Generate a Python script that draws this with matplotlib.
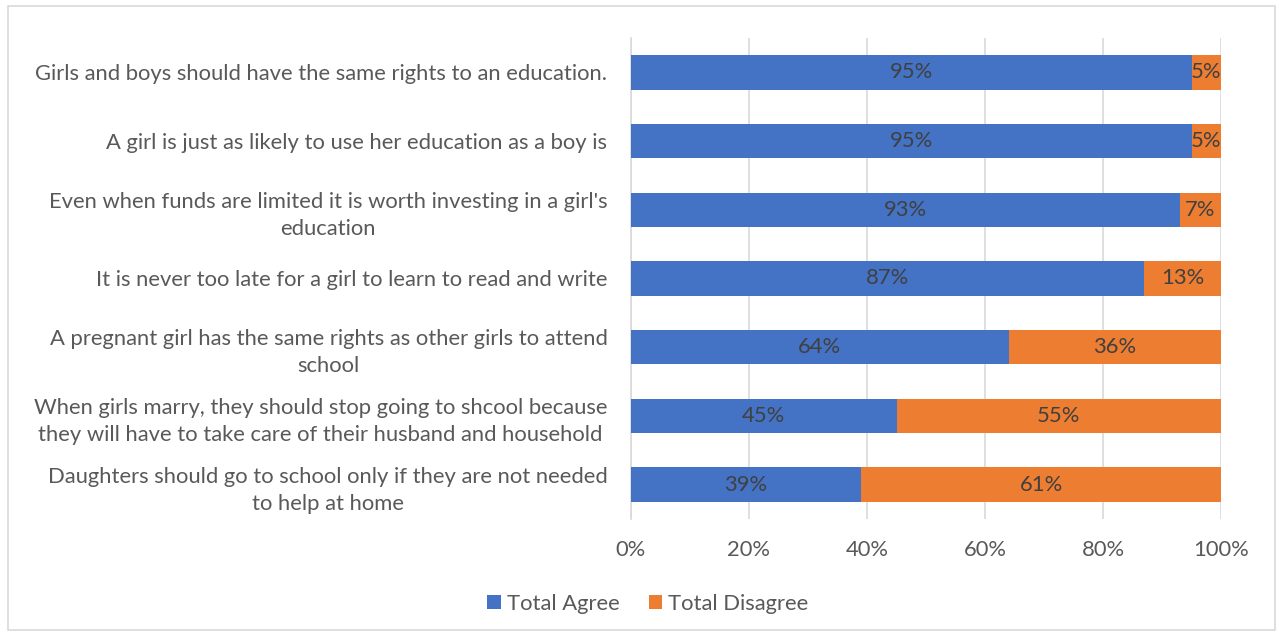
import matplotlib
matplotlib.use("Agg")
import matplotlib.pyplot as plt
from matplotlib.patches import Rectangle
from matplotlib.ticker import FixedLocator

statements = [
    "Girls and boys should have the same rights to an education.",
    "A girl is just as likely to use her education as a boy is",
    "Even when funds are limited it is worth investing in a girl's\neducation",
    "It is never too late for a girl to learn to read and write",
    "A pregnant girl has the same rights as other girls to attend\nschool",
    "When girls marry, they should stop going to shcool because\nthey will have to take care of their husband and household",
    "Daughters should go to school only if they are not needed\nto help at home",
]
agree = [95, 95, 93, 87, 64, 45, 39]
disagree = [5, 5, 7, 13, 36, 55, 61]
series_names = ["Total Agree", "Total Disagree"]
tick_values = [0, 20, 40, 60, 80, 100]

BLUE = "#4472C4"
ORANGE = "#ED7D31"
TEXT = "#595959"
LABEL = "#404040"
GRID = "#D9D9D9"
FS = 15.8

plt.rcParams["font.family"] = ["Lato", "DejaVu Sans"]

W, H = 1279, 636
fig = plt.figure(figsize=(W / 100, H / 100), dpi=100)

# chart frame
fig.add_artist(Rectangle((8 / W, 6 / H), (1275 - 8) / W, (630 - 6) / H,
                         transform=fig.transFigure, fill=False,
                         edgecolor="#D9D9D9", linewidth=1.2))

ax = fig.add_axes([631 / W, 1 - 519 / H, (1221 - 631) / W, (519 - 38) / H])

n = len(statements)
ypos = list(range(n))
ax.barh(ypos, agree, height=0.5, color=BLUE, label=series_names[0], zorder=3)
ax.barh(ypos, disagree, left=agree, height=0.5, color=ORANGE,
        label=series_names[1], zorder=3)

for y, a, d in zip(ypos, agree, disagree):
    ax.text(a / 2, y, f"{a}%", ha="center", va="center",
            fontsize=FS, color=LABEL, zorder=4)
    ax.text(a + d / 2, y, f"{d}%", ha="center", va="center",
            fontsize=FS, color=LABEL, zorder=4)

ax.set_xlim(0, 100)
ax.set_ylim(n - 0.5, -0.5)
ax.xaxis.set_major_locator(FixedLocator(tick_values))
ax.set_xticklabels([f"{v}%" for v in tick_values], fontsize=FS, color=TEXT)
ax.set_yticks(ypos)
ax.set_yticklabels(statements, fontsize=FS, color=TEXT,
                   multialignment="center", linespacing=1.45)
ax.tick_params(axis="both", length=0)
ax.tick_params(axis="x", pad=15)
ax.tick_params(axis="y", pad=17)
ax.grid(axis="x", color=GRID, linewidth=1.2, zorder=0)
for side in ["top", "right", "bottom"]:
    ax.spines[side].set_visible(False)
ax.spines["left"].set_color(GRID)
ax.spines["left"].set_linewidth(1.2)

handles, labels = ax.get_legend_handles_labels()
fig.legend(handles, labels, loc="center", bbox_to_anchor=(648 / W, 1 - 604 / H),
           ncol=2, frameon=False, fontsize=FS, labelcolor=TEXT,
           handlelength=0.6, handleheight=0.6, handletextpad=0.3,
           columnspacing=1.3)

fig.savefig("out.png", dpi=100)
